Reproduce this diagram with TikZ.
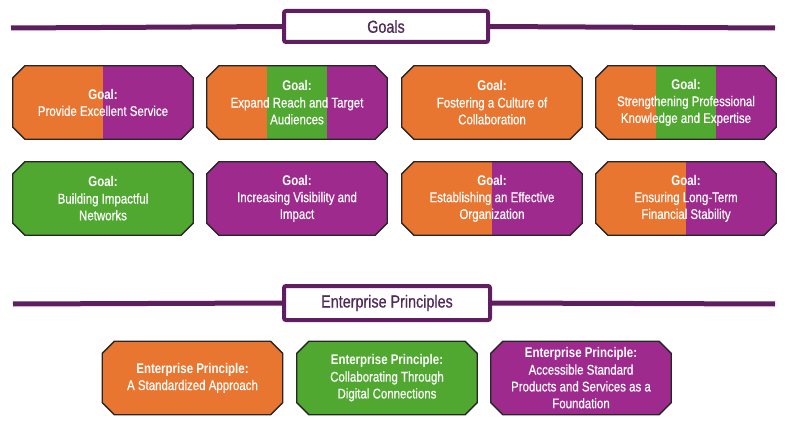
\documentclass[tikz,border=0pt]{standalone}
\usepackage{fontspec}
\setmainfont{Liberation Sans}[FakeStretch=0.82, UprightFeatures={FakeBold=0.5}]
\usepackage{tikz}
\usetikzlibrary{calc,backgrounds}
\usepackage{xcolor}

\definecolor{cor}{RGB}{233,118,48}
\definecolor{cpu}{RGB}{158,42,142}
\definecolor{cgr}{RGB}{80,168,48}
\definecolor{cline}{RGB}{95,30,95}
\definecolor{ctitle}{RGB}{80,40,90}

% octagon outline round a node
\newcommand{\octa}[1]{([xshift=12pt]#1.north west) -- ([xshift=-12pt]#1.north east) -- ([yshift=-12pt]#1.north east) -- ([yshift=12pt]#1.south east) -- ([xshift=-12pt]#1.south east) -- ([xshift=12pt]#1.south west) -- ([yshift=12pt]#1.south west) -- ([yshift=-12pt]#1.north west) -- cycle}

\tikzset{
  box/.style={minimum width=180pt, minimum height=73pt, inner sep=0pt, align=center,
    text=white, font=\fontsize{14}{16.8}\selectfont},
  octline/.style={draw=black!85, line width=1.3pt},
  title/.style={draw=cline, line width=4pt, rounded corners=2pt, fill=white,
    minimum height=31pt, text=ctitle, font=\fontsize{17.5}{20}\selectfont},
  bar/.style={cline, line width=5pt},
  split2/.style 2 args={path picture={
    \fill[#1] (path picture bounding box.south west) rectangle (path picture bounding box.north);
    \fill[#2] (path picture bounding box.south) rectangle (path picture bounding box.north east);}},
  split3/.style n args={3}{path picture={
    \fill[#1] (path picture bounding box.south west) rectangle ($(path picture bounding box.north west)!1/3!(path picture bounding box.north east)$);
    \fill[#2] ($(path picture bounding box.south west)!1/3!(path picture bounding box.south east)$) rectangle ($(path picture bounding box.north west)!2/3!(path picture bounding box.north east)$);
    \fill[#3] ($(path picture bounding box.south west)!2/3!(path picture bounding box.south east)$) rectangle (path picture bounding box.north east);}}
}

\begin{document}
\begin{tikzpicture}[x=1pt, y=-1pt]
    \useasboundingbox (0,0) rectangle (788,425);

    % Goals header
    \coordinate (gl) at (11,28);
    \coordinate (gr) at (775,28);
    \node[title, minimum width=204pt] (goals) at (386,26.5) {Goals};
    \draw[bar] (gl) -- (goals.west);
    \draw[bar] (goals.east) -- (gr);

    % Goals, first row
    \node[box] (g1) at (103,102.5) {\textbf{Goal:}\\Provide Excellent Service};
    \node[box] (g2) at (297,102.5) {\textbf{Goal:}\\Expand Reach and Target\\Audiences};
    \node[box] (g3) at (492,102.5) {\textbf{Goal:}\\Fostering a Culture of\\Collaboration};
    \node[box] (g4) at (686,102.5) {\textbf{Goal:}\\Strengthening Professional\\Knowledge and Expertise};

    % Goals, second row
    \node[box] (g5) at (103,198.5) {\textbf{Goal:}\\Building Impactful\\Networks};
    \node[box] (g6) at (297,198.5) {\textbf{Goal:}\\Increasing Visibility and\\Impact};
    \node[box] (g7) at (492,198.5) {\textbf{Goal:}\\Establishing an Effective\\Organization};
    \node[box] (g8) at (686,198.5) {\textbf{Goal:}\\Ensuring Long-Term\\Financial Stability};

    % Principles header
    \coordinate (pl) at (13,304);
    \coordinate (pr) at (775,304);
    \node[title, minimum width=206pt, minimum height=34pt] (princ) at (387,303) {Enterprise Principles};
    \draw[bar] (pl) -- (princ.west);
    \draw[bar] (princ.east) -- (pr);

    % Principles
    \node[box] (p1) at (192.5,378) {\textbf{Enterprise Principle:}\\A Standardized Approach};
    \node[box] (p2) at (387,378) {\textbf{Enterprise Principle:}\\Collaborating Through\\Digital Connections};
    \node[box] (p3) at (581,378) {\textbf{Enterprise Principle:}\\Accessible Standard\\Products and Services as a\\Foundation};

    % Box backgrounds
    \begin{scope}[on background layer]
        \path[octline, split2={cor}{cpu}] \octa{g1};
        \path[octline, split3={cor}{cgr}{cpu}] \octa{g2};
        \path[octline, fill=cor] \octa{g3};
        \path[octline, split3={cor}{cgr}{cpu}] \octa{g4};
        \path[octline, fill=cgr] \octa{g5};
        \path[octline, fill=cpu] \octa{g6};
        \path[octline, split2={cor}{cpu}] \octa{g7};
        \path[octline, split2={cor}{cpu}] \octa{g8};
        \path[octline, fill=cor] \octa{p1};
        \path[octline, fill=cgr] \octa{p2};
        \path[octline, fill=cpu] \octa{p3};
    \end{scope}
\end{tikzpicture}
\end{document}
